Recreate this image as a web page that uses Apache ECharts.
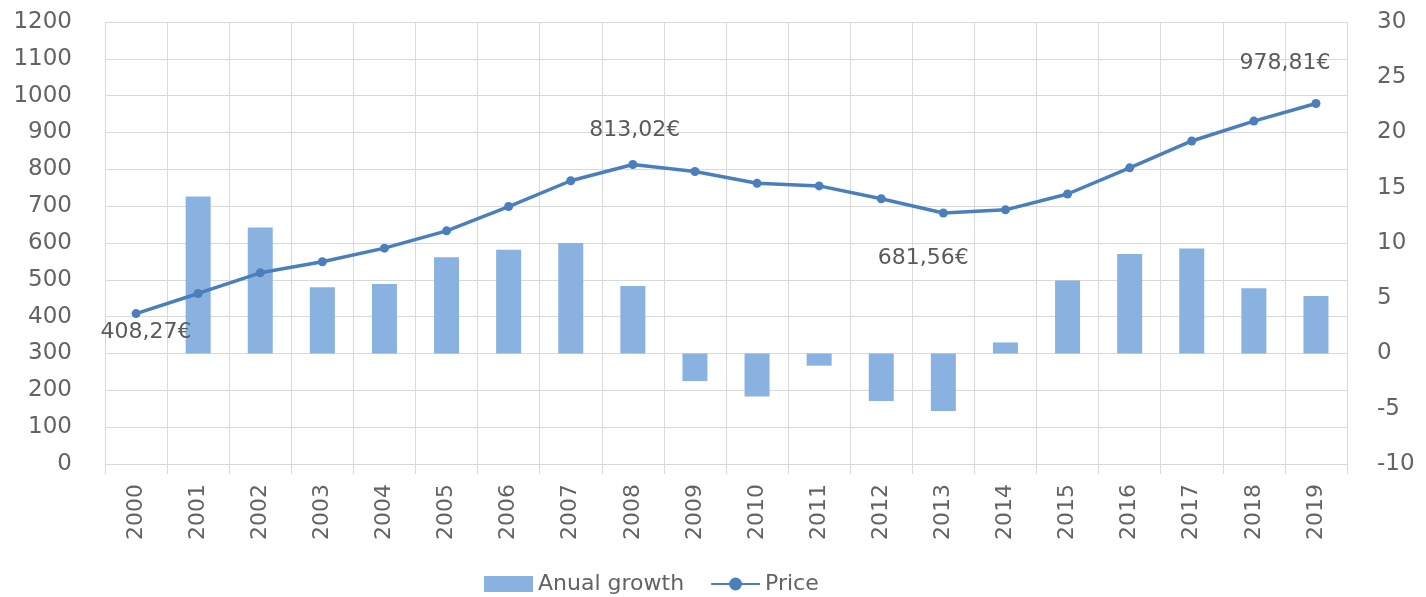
<!DOCTYPE html>
<html>
<head>
<meta charset="utf-8">
<script src="https://cdn.jsdelivr.net/npm/echarts@6/dist/echarts.min.js"></script>
<style>
  html, body { margin: 0; padding: 0; background: #ffffff; }
  #chart { width: 1426px; height: 597px; }
</style>
</head>
<body>
<div id="chart"></div>
<script>
// Years on the category axis
const years = ['2000','2001','2002','2003','2004','2005','2006','2007','2008','2009',
               '2010','2011','2012','2013','2014','2015','2016','2017','2018','2019'];

// Annual growth (%), right axis
const annualGrowth = [null, 14.2, 11.4, 6.0, 6.3, 8.7, 9.4, 10.0, 6.1, -2.5,
                      -3.9, -1.1, -4.3, -5.2, 1.0, 6.6, 9.0, 9.5, 5.9, 5.2];

// Price (€), left axis
const price = [408.27, 463, 519, 549, 586, 633, 699, 769, 813.02, 794,
               762, 755, 720, 681.56, 690, 733, 804, 877, 931, 978.81];

// Left axis range and right axis range
const leftAxis = { min: 0, max: 1200, interval: 100 };
const rightAxis = { min: -10, max: 30, interval: 5 };

// Years whose price gets a value label
const labelledYears = ['2000', '2008', '2013', '2019'];

const textColor = '#636363';
const gridColor = '#d9d9d9';
const fontFamily = 'DejaVu Sans';

const fmtEuro = v => v.toFixed(2).replace('.', ',') + '€';

// label placement around the marker for each labelled year
const labelOffsets = {
  '2000': [10, 19],
  '2008': [2, -34],
  '2013': [-20, 45],
  '2019': [-31, -40]
};

const priceData = price.map((v, i) => {
  const y = years[i];
  if (labelledYears.indexOf(y) === -1) return v;
  return {
    value: v,
    label: {
      show: true,
      position: 'inside',
      offset: labelOffsets[y],
      formatter: p => fmtEuro(p.value),
      color: '#5a5a5a',
      fontSize: 22,
      fontFamily: fontFamily
    }
  };
});

const chart = echarts.init(document.getElementById('chart'), null, { renderer: 'canvas' });

chart.setOption({
  animation: false,
  backgroundColor: '#ffffff',
  grid: { left: 105, right: 79, top: 22, bottom: 133, containLabel: false },
  legend: {
    left: 479,
    top: 568,
    itemWidth: 49,
    itemHeight: 16,
    itemGap: 26,
    textStyle: { color: textColor, fontSize: 22, fontFamily: fontFamily },
    data: [
      { name: 'Anual growth', icon: 'rect' },
      { name: 'Price' }
    ]
  },
  xAxis: {
    type: 'category',
    data: years,
    boundaryGap: true,
    axisLine: { show: true, lineStyle: { color: gridColor, width: 1 } },
    axisTick: { show: true, length: 10, lineStyle: { color: gridColor } },
    splitLine: { show: true, lineStyle: { color: gridColor, width: 1 } },
    axisLabel: {
      rotate: 90,
      margin: 20,
      color: textColor,
      fontSize: 22,
      fontFamily: fontFamily
    }
  },
  yAxis: [
    {
      type: 'value',
      min: leftAxis.min,
      max: leftAxis.max,
      interval: leftAxis.interval,
      axisLine: { show: false },
      axisTick: { show: false },
      splitLine: { show: true, lineStyle: { color: gridColor, width: 1 } },
      axisLabel: {
        margin: 33, color: textColor, fontSize: 23, fontFamily: fontFamily,
        formatter: v => String(v)
      }
    },
    {
      type: 'value',
      min: rightAxis.min,
      max: rightAxis.max,
      interval: rightAxis.interval,
      axisLine: { show: false },
      axisTick: { show: false },
      splitLine: { show: false },
      axisLabel: {
        margin: 30, color: textColor, fontSize: 23, fontFamily: fontFamily,
        formatter: v => String(v)
      }
    }
  ],
  series: [
    {
      name: 'Anual growth',
      type: 'bar',
      yAxisIndex: 1,
      data: annualGrowth,
      barWidth: 25,
      itemStyle: { color: '#8ab2e0' },
      z: 2
    },
    {
      name: 'Price',
      type: 'line',
      yAxisIndex: 0,
      data: priceData,
      symbol: 'circle',
      symbolSize: 9,
      lineStyle: { color: '#4a7fbb', width: 3.5 },
      itemStyle: { color: '#4a7fbb' },
      z: 3
    }
  ]
});
</script>
</body>
</html>
